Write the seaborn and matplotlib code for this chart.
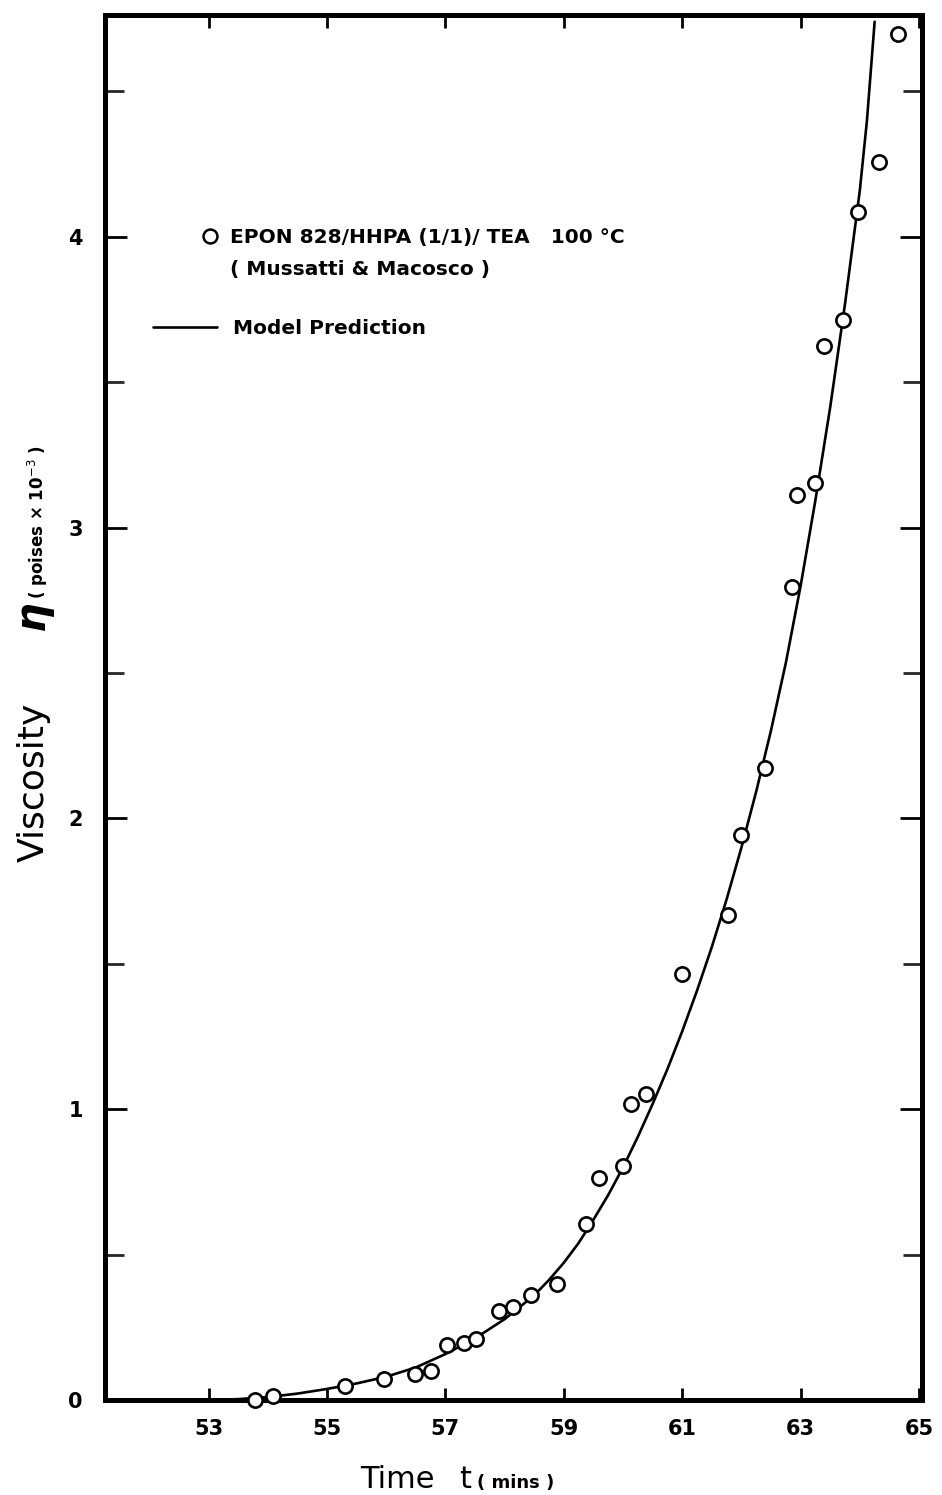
import numpy as np
import pandas as pd
import matplotlib
matplotlib.use("Agg")
import matplotlib.pyplot as plt
import seaborn as sns
from matplotlib.lines import Line2D
from matplotlib.ticker import MultipleLocator, FixedLocator

# ---- data ----
t_obs = [53.78, 54.09, 55.31, 55.96, 56.49, 56.75, 57.02, 57.31, 57.52, 57.90,
         58.14, 58.45, 58.89, 59.38, 59.60, 60.00, 60.13, 60.39, 60.99, 61.77,
         61.99, 62.39, 62.86, 62.94, 63.24, 63.40, 63.71, 63.97, 64.33, 64.65]
eta_obs = [0.00, 0.015, 0.048, 0.071, 0.089, 0.10, 0.19, 0.197, 0.21, 0.306,
           0.32, 0.36, 0.40, 0.605, 0.765, 0.806, 1.018, 1.052, 1.465, 1.668,
           1.943, 2.175, 2.795, 3.113, 3.153, 3.625, 3.715, 4.084, 4.256, 4.698]

t_model = [53.0, 53.5, 54.0, 54.5, 55.0, 55.5, 56.0, 56.5, 57.0, 57.5, 58.0,
           58.5, 58.75, 59.0, 59.25, 59.5, 59.75, 60.0, 60.25, 60.5, 60.75,
           61.0, 61.25, 61.5, 61.75, 62.0, 62.25, 62.5, 62.75, 63.0, 63.25,
           63.5, 63.75, 64.0, 64.12, 64.25]
eta_model = [0.000, 0.003, 0.010, 0.022, 0.038, 0.057, 0.080, 0.112, 0.158,
             0.212, 0.278, 0.360, 0.413, 0.472, 0.540, 0.620, 0.705, 0.800,
             0.905, 1.018, 1.138, 1.268, 1.408, 1.558, 1.722, 1.900, 2.093,
             2.303, 2.535, 2.800, 3.095, 3.415, 3.770, 4.160, 4.400, 4.740]

x_ticks = [53, 55, 57, 59, 61, 63, 65]
y_ticks = [0, 1, 2, 3, 4]

obs = pd.DataFrame({"t": t_obs, "eta": eta_obs})
model = pd.DataFrame({"t": t_model, "eta": eta_model})

sns.set_theme(style="white")
plt.rcParams["font.family"] = ["DejaVu Sans"]
plt.rcParams["text.color"] = "black"
plt.rcParams["axes.labelcolor"] = "black"

W, H = 942, 1495
fig = plt.figure(figsize=(W / 100, H / 100), dpi=100)
ax = fig.add_axes([105 / W, 95 / H, 817 / W, 1385 / H])

sns.lineplot(data=model, x="t", y="eta", ax=ax, color="black", lw=1.9,
             sort=False, estimator=None)
sns.scatterplot(data=obs, x="t", y="eta", ax=ax, marker="o", s=105,
                facecolor="white", edgecolor="black", linewidth=1.9, zorder=5,
                clip_on=False)

ax.set_xlim(51.25, 65.05)
ax.set_ylim(0, 4.763)
ax.set_xlabel("")
ax.set_ylabel("")

for s in ax.spines.values():
    s.set_visible(True)
    s.set_linewidth(3.6)
    s.set_color("black")

ax.xaxis.set_major_locator(FixedLocator(x_ticks))
ax.set_xticklabels([str(v) for v in x_ticks])
ax.yaxis.set_major_locator(FixedLocator(y_ticks))
ax.set_yticklabels([str(v) for v in y_ticks])
ax.yaxis.set_minor_locator(MultipleLocator(0.5))

ax.tick_params(axis="x", which="major", direction="in", length=9, width=2,
               top=True, bottom=True, pad=14, labelsize=15, colors="black")
ax.tick_params(axis="y", which="major", direction="in", length=16, width=2,
               left=True, right=True, pad=16, labelsize=15, colors="black")
ax.tick_params(axis="y", which="minor", direction="in", length=14, width=2,
               left=True, right=True)
for lab in ax.get_xticklabels() + ax.get_yticklabels():
    lab.set_fontweight("bold")

# ---- legend ----
circ = Line2D([], [], marker="o", linestyle="none", markersize=10,
              markerfacecolor="white", markeredgecolor="black", markeredgewidth=1.8)
blank = Line2D([], [], linestyle="none")
leg1 = ax.legend([circ, blank],
                 ["EPON 828/HHPA (1/1)/ TEA   100 °C", "( Mussatti & Macosco )"],
                 loc="center left", bbox_to_anchor=((200 - 105) / 817, (1400 - 253.5) / 1385),
                 frameon=False, borderpad=0, borderaxespad=0, handlelength=1.0,
                 handletextpad=0.5, labelspacing=0.65,
                 prop={"size": 14.5, "weight": "bold"}, labelcolor="black")
ax.add_artist(leg1)
lin = Line2D([], [], color="black", lw=1.9)
ax.legend([lin], ["Model Prediction"],
          loc="center left", bbox_to_anchor=((153 - 105) / 817, (1400 - 329) / 1385),
          frameon=False, borderpad=0, borderaxespad=0, handlelength=3.2,
          handletextpad=0.75, prop={"size": 14.5, "weight": "bold"},
          labelcolor="black")

# ---- axis titles ----
yb = 1 - 1488 / H
fig.text(397 / W, yb, "Time", ha="center", va="baseline", fontsize=22)
fig.text(465 / W, yb, "t", ha="center", va="baseline", fontsize=22)
fig.text(477 / W, yb, "( mins )", ha="left", va="baseline", fontsize=13,
         fontweight="bold")

xb = 44 / W
fig.text(xb, 1 - 782 / H, "Viscosity", rotation=90, rotation_mode="anchor",
         ha="center", va="baseline", fontsize=26)
fig.text(xb, 1 - 615 / H, "η", rotation=90, rotation_mode="anchor",
         ha="center", va="baseline", fontsize=30, fontweight="bold",
         fontstyle="italic")
fig.text(xb, 1 - 522 / H, "( poises × 10$^{-3}$ )", rotation=90,
         rotation_mode="anchor", ha="center", va="baseline", fontsize=12,
         fontweight="bold")

fig.savefig("out.png", dpi=100, facecolor="white")
